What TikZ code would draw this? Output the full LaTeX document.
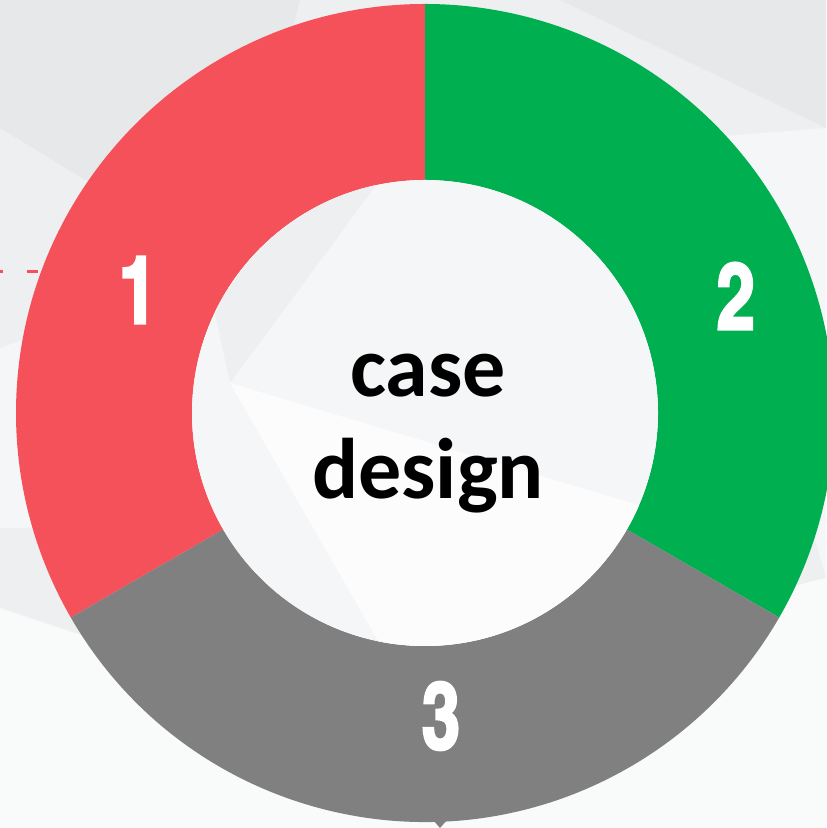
\documentclass[tikz,border=0pt]{standalone}
\usepackage{fontspec}
\setmainfont{Carlito}
\newfontfamily\digitfont{texgyreheroscn-bold.otf}[FakeBold=2.5]
\definecolor{ringred}{HTML}{F4515A}
\definecolor{ringgreen}{HTML}{00B050}
\definecolor{ringgray}{HTML}{808080}
\definecolor{bgdark}{HTML}{E7E8E9}
\definecolor{bgmid}{HTML}{EEEFF0}
\definecolor{bglight}{HTML}{F5F6F7}
\tikzset{
  numlabel/.style={text=white, inner sep=0pt, xscale=0.9,
    font=\digitfont\fontsize{47}{47}\selectfont},
  centerlabel/.style={align=center, inner sep=0pt,
    font=\bfseries\fontsize{43}{51}\selectfont}
}
\begin{document}
\begin{tikzpicture}[x=0.5pt,y=0.5pt]
\useasboundingbox (0,0) rectangle (826,828);
% background facets
\fill[bgmid] (0,0) rectangle (826,828);
\fill[bgdark] (0,828) -- (300,828) -- (230,560) -- (0,700) -- cycle;
\fill[bgdark] (560,828) -- (826,828) -- (826,700) -- cycle;
\fill[bglight] (0,480) -- (230,560) -- (420,300) -- (0,300) -- cycle;
\fill[bglight] (826,700) -- (700,690) -- (826,250) -- cycle;
\fill[bglight!60!white] (0,0) -- (826,0) -- (826,250) -- (300,120) -- (0,220) -- cycle;
\draw[ringred, line width=1.5pt, dash pattern=on 5.5pt off 12pt, dash phase=4pt] (0,556) -- (60,556);
% ring
\begin{scope}[shift={(425,415)}]
  \foreach \a/\b/\c in {90/210/ringred, -30/90/ringgreen, 210/330/ringgray}
    \fill[\c] (\a:409) arc[start angle=\a, end angle=\b, radius=409]
      -- (\b:233) arc[start angle=\b, end angle=\a, radius=233] -- cycle;
  \begin{scope}
    \clip (0,0) circle (233);
    \fill[bglight] (-240,-240) rectangle (240,240);
    \fill[bgmid] (-40,240) -- (-195,30) -- (-240,240) -- cycle;
    \fill[white!70!bglight] (-195,30) -- (-40,-240) -- (240,-240) -- (240,-100) -- cycle;
  \end{scope}
\end{scope}
\fill[ringgray] (433,8) -- (447,8) -- (440,0) -- cycle;
% labels
\node[numlabel] (one) at (138,538) {1};
\node[numlabel] (two) at (736,532) {2};
\node[numlabel] (three) at (441,112) {3};
\node[centerlabel] (title) at (428,394) {case\\design};
\end{tikzpicture}
\end{document}
